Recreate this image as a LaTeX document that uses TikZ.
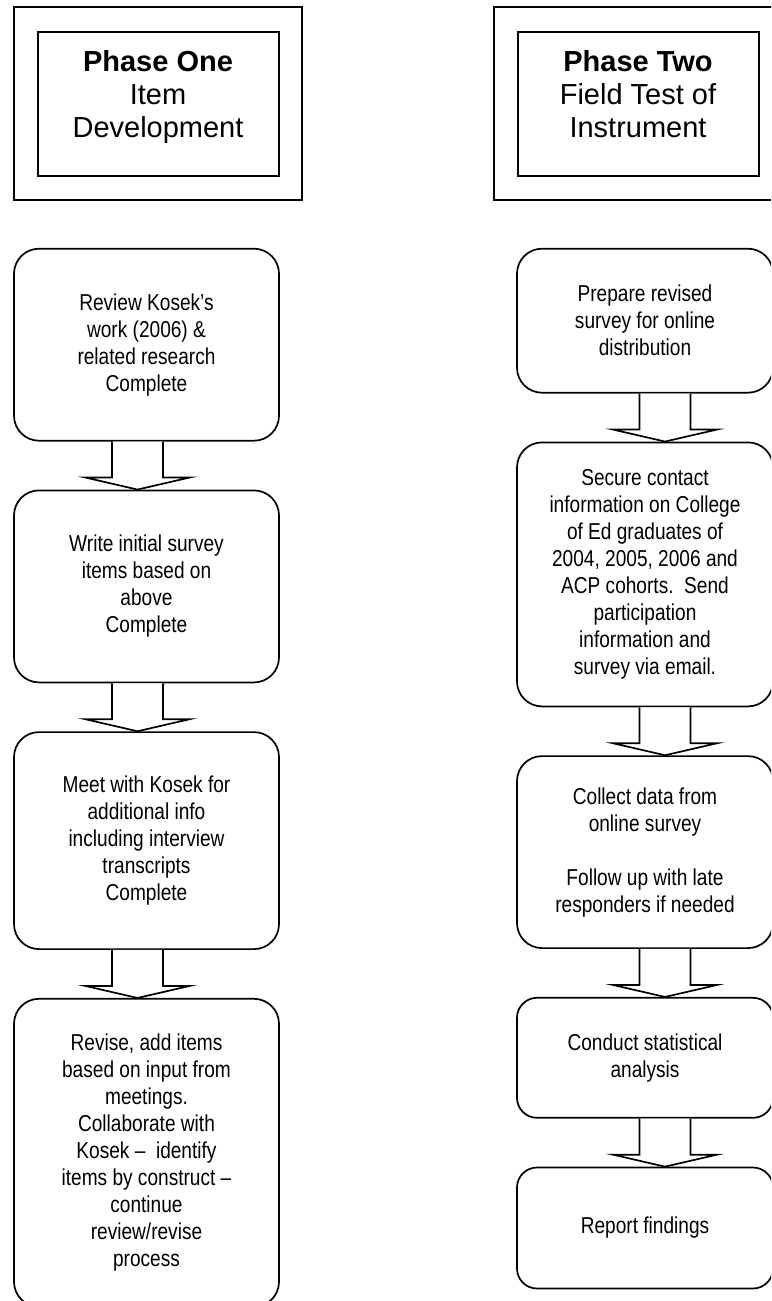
\documentclass[tikz,border=0pt]{standalone}
\usepackage{fontspec}
\setmainfont{Liberation Sans}
\newfontfamily\narrowfont[FakeStretch=0.83]{Liberation Sans}
\usetikzlibrary{positioning, calc}

\newcommand{\flowarrow}[3]{%
  \draw[blockarr] let \p1=($(#1.south)+(#3,0)$), \p2=(#2.north) in
    (\x1-25.5pt,\y1) -- (\x1-25.5pt,\y2+12pt) -- (\x1-52pt,\y2+12pt) -- (\x1,\y2)
    -- (\x1+52pt,\y2+12pt) -- (\x1+25.5pt,\y2+12pt) -- (\x1+25.5pt,\y1);}

\begin{document}
\begin{tikzpicture}[
  x=1pt, y=-1pt,
  node distance=48pt,
  outerbox/.style={rectangle, draw, line width=1.7pt, minimum width=288pt, minimum height=193pt},
  innerbox/.style={rectangle, draw, line width=2pt, minimum width=241pt, minimum height=144pt},
  titletext/.style={align=center, inner sep=0pt, font=\fontsize{29}{33}\selectfont},
  stepbox/.style={rectangle, rounded corners=25pt, draw, line width=1.7pt, minimum width=265pt, inner sep=0pt, align=center, font=\narrowfont\fontsize{23}{27}\selectfont},
  rstepbox/.style={stepbox, minimum width=256pt},
  blockarr/.style={draw, line width=1.7pt, fill=white, line join=miter},
]
\useasboundingbox (0,0) rectangle (771,1301);
\clip (0,0) rectangle (771,1301);

\node[outerbox] (oneouter) at (158,103.5) {};
\node[innerbox] (oneinner) at (oneouter.center) {};
\node[titletext, below=20pt of oneinner.north] (onetitle) {\textbf{Phase One}\\Item\\Development};

\node[stepbox, minimum height=192pt, below=47pt of oneouter.south west, anchor=north west] (review) {Review Kosek’s\\work (2006) \&\\related research\\Complete};
\node[stepbox, minimum height=192pt, below=of review] (write)  {Write initial survey\\items based on\\above\\Complete};
\node[stepbox, minimum height=217pt, below=of write]  (meet)   {Meet with Kosek for\\additional info\\including interview\\transcripts\\Complete};
\node[stepbox, minimum height=308pt, below=of meet]   (revise) {Revise, add items\\based on input from\\meetings.\\Collaborate with\\Kosek –\ \ identify\\items by construct –\\continue\\review/revise\\process};

\node[outerbox] (twoouter) at (638,103.5) {};
\node[innerbox] (twoinner) at (twoouter.center) {};
\node[titletext, below=20pt of twoinner.north] (twotitle) {\textbf{Phase Two}\\Field Test of\\Instrument};

\node[rstepbox, minimum height=144pt, below=47pt of twoouter.south west, anchor=north west, xshift=23pt] (prepare) {Prepare revised\\survey for online\\distribution};
\node[rstepbox, minimum height=264pt, below=of prepare] (secure)  {Secure contact\\information on College\\of Ed graduates of\\2004, 2005, 2006 and\\ACP cohorts.\ \ Send\\participation\\information and\\survey via email.};
\node[rstepbox, minimum height=192pt, below=of secure]  (collect) {Collect data from\\online survey\\[27pt]Follow up with late\\responders if needed};
\node[rstepbox, minimum height=120pt, rounded corners=20pt, below=of collect] (analyse) {Conduct statistical\\analysis};
\node[rstepbox, minimum height=121pt, rounded corners=20pt, below=of analyse] (report)  {Report findings};

\flowarrow{review}{write}{-9}
\flowarrow{write}{meet}{-9}
\flowarrow{meet}{revise}{-9}

\flowarrow{prepare}{secure}{20}
\flowarrow{secure}{collect}{20}
\flowarrow{collect}{analyse}{20}
\flowarrow{analyse}{report}{20}
\end{tikzpicture}
\end{document}
